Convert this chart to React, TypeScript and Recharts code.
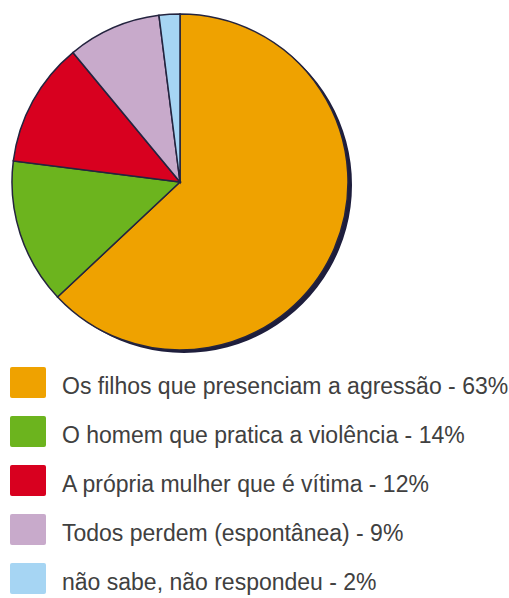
import { PieChart, Pie, Cell, Legend } from 'recharts';

const LABELS = [
  'Os filhos que presenciam a agressão - 63%',
  'O homem que pratica a violência - 14%',
  'A própria mulher que é vítima - 12%',
  'Todos perdem (espontânea) - 9%',
  'não sabe, não respondeu - 2%',
];
const VALUES = [63, 14, 12, 9, 2];
const COLORS = ['#EFA200', '#6CB41E', '#D8001F', '#C8AACB', '#A6D5F3'];

const data = LABELS.map((name, i) => ({ name, value: VALUES[i] }));
const shadow = [{ name: 'shadow', value: 1 }];

function LegendBox() {
  return (
    <div style={{ fontFamily: '"Liberation Sans", Arial, sans-serif' }}>
      {LABELS.map((label, i) => (
        <div key={label} style={{ position: 'relative', height: 49 }}>
          <div
            style={{
              position: 'absolute', left: 0, top: 0, width: 36, height: 31,
              background: COLORS[i], borderRadius: 2,
            }}
          />
          <span
            style={{
              position: 'absolute', left: 52, top: 8, fontSize: 23, lineHeight: '23px',
              color: '#404040', whiteSpace: 'nowrap',
            }}
          >
            {label}
          </span>
        </div>
      ))}
    </div>
  );
}

export default function App() {
  return (
    <div style={{ position: 'absolute', left: 0, top: 0, width: 509, height: 598, background: '#fff', overflow: 'hidden' }}>
      <PieChart width={509} height={598} margin={{ top: 0, right: 0, bottom: 0, left: 0 }}>
        {/* dark drop shadow behind the pie */}
        <Pie
          data={shadow}
          dataKey="value"
          cx={184}
          cy={185}
          outerRadius={168}
          startAngle={90}
          endAngle={-270}
          fill="#1e1e3c"
          stroke="none"
          isAnimationActive={false}
        />
        <Pie
          data={data}
          dataKey="value"
          cx={180}
          cy={182}
          outerRadius={168}
          startAngle={90}
          endAngle={-270}
          stroke="#24243f"
          strokeWidth={1.5}
          isAnimationActive={false}
        >
          {data.map((d, i) => (
            <Cell key={d.name} fill={COLORS[i]} />
          ))}
        </Pie>
        <Legend
          content={() => <LegendBox />}
          wrapperStyle={{ position: 'absolute', left: 10, top: 367, width: 499 }}
        />
      </PieChart>
    </div>
  );
}
